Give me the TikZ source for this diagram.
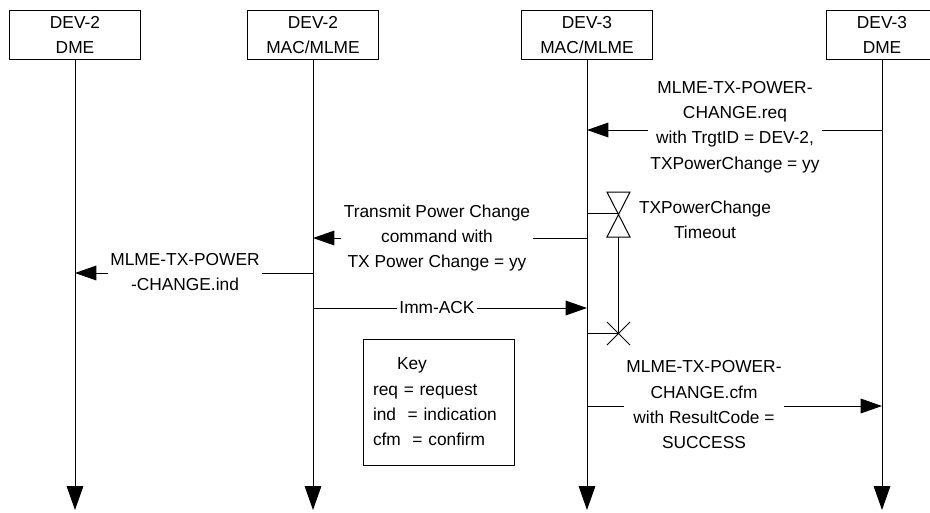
\documentclass[tikz,border=0pt]{standalone}
\usepackage{fontspec}
\setmainfont{Liberation Sans}
\usepackage{tikz}
\usetikzlibrary{arrows.meta,positioning,calc}
\definecolor{ink}{HTML}{000000}
\tikzset{
  entity/.style={draw=ink, fill=white, line width=0.75pt, align=center,
                 minimum width=98pt, minimum height=36.75pt, inner sep=0pt,
                 font=\fontsize{13}{19}\selectfont},
  lifeline/.style={-{Triangle[length=18pt,width=12.5pt]}, line width=0.75pt, draw=ink},
  msg/.style={-{Triangle[length=16pt,width=11pt]}, line width=0.75pt, draw=ink},
  msglabel/.style={fill=white, align=center, inner sep=2pt,
                   font=\fontsize{13}{19}\selectfont},
  timerline/.style={line width=0.75pt, draw=ink},
  keybox/.style={draw=ink, line width=0.75pt, align=left, text width=98.25pt,
                 inner xsep=7.5pt, minimum height=94.5pt,
                 font=\fontsize{13}{19}\selectfont}
}
\begin{document}
\begin{tikzpicture}[x=0.75pt,y=-0.75pt]
  \clip (0,0) rectangle (930,512);
  % entities along the top
  \node[entity] (dme2) at (75,35) {DEV-2\\DME};
  \node[entity] (mac2) at (313,35) {DEV-2\\MAC/MLME};
  \node[entity] (mac3) at (587,35) {DEV-3\\MAC/MLME};
  \node[entity, minimum width=84pt] (dme3) at (882,35) {DEV-3\\DME};
  % lifelines
  \foreach \ent in {dme2,mac2,mac3,dme3} {
    \draw[lifeline] (\ent.south) -- (\ent |- 0,510);
  }
  % request from DEV-3 DME
  \draw[msg] (dme3 |- 0,130) -- (mac3 |- 0,130);
  \node[msglabel] (reqtxt) at (735,127)
    {MLME-TX-POWER-\\CHANGE.req\\with TrgtID = DEV-2,\\TXPowerChange = yy};
  % command over the air
  \draw[msg] (mac3 |- 0,238) -- (mac2 |- 0,238);
  \node[msglabel] (cmdtxt) at (437,238)
    {Transmit Power Change\\command with\\TX Power Change = yy};
  % indication to DEV-2 DME
  \draw[msg] (mac2 |- 0,273) -- (dme2 |- 0,273);
  \node[msglabel] (indtxt) at (185,272) {MLME-TX-POWER\\-CHANGE.ind};
  % acknowledgement
  \draw[msg] (mac2 |- 0,308) -- (mac3 |- 0,308);
  \node[msglabel] (acktxt) at (437,308) {Imm-ACK};
  % timer started and stopped
  \coordinate (tstart) at (618.5,213);
  \coordinate (tstop) at (618.5,333);
  \draw[timerline] (mac3 |- tstart) -- (tstart);
  \draw[timerline] (607,192) -- (630,192) -- (607,237) -- (630,237) -- cycle;
  \draw[timerline] (618.5,237) -- (tstop);
  \draw[timerline] (mac3 |- tstop) -- (tstop);
  \draw[timerline] (607,322) -- (630,345) (607,345) -- (630,322);
  \node[msglabel, fill=none] (timertxt) at (705,220) {TXPowerChange\\Timeout};
  % confirm back to DEV-3 DME
  \draw[msg] (mac3 |- 0,406) -- (dme3 |- 0,406);
  \node[msglabel] (cfmtxt) at (704,405)
    {MLME-TX-POWER-\\CHANGE.cfm\\with ResultCode =\\SUCCESS};
  % key
  \node[keybox] (key) at (438.5,402)
    {\hspace*{18pt}Key\\req = request\\ind\ \ = indication\\cfm\ \ = confirm};
\end{tikzpicture}
\end{document}
